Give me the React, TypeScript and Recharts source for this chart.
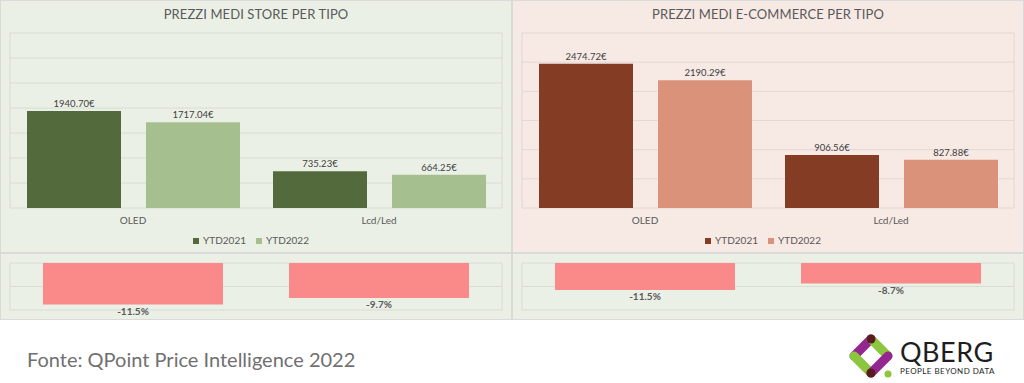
import {
  Bar,
  BarChart,
  CartesianGrid,
  LabelList,
  Legend,
  XAxis,
  YAxis,
} from 'recharts';

// Prezzi medi store / e-commerce per tipo, con variazione YTD2022 vs YTD2021 sotto.
const categories = ['OLED', 'Lcd/Led'];
const storeYtd2021 = [1940.7, 735.23];
const storeYtd2022 = [1717.04, 664.25];
const ecomYtd2021 = [2474.72, 906.56];
const ecomYtd2022 = [2190.29, 827.88];
const storeChange = [-11.5, -9.7];
const ecomChange = [-11.5, -8.7];
const storeTicks = [0, 500, 1000, 1500, 2000, 2500, 3000, 3500];
const ecomTicks = [0, 500, 1000, 1500, 2000, 2500, 3000];
const storeChangeTicks = [-13, -6.5, 0];
const ecomChangeTicks = [-20, -10, 0];
const gridTicks = [0, 1, 2];

const FONT = 'Lato, "Open Sans", sans-serif';
const GREEN_BG = '#EBF0E6';
const PINK_BG = '#F7E9E4';
const TEXT = '#595959';

const PANEL_W = 510;

function PricePanel({
  title,
  y21,
  y22,
  ticks,
  colors,
  bg,
  grid,
  left,
}: {
  title: string;
  y21: number[];
  y22: number[];
  ticks: number[];
  colors: [string, string];
  bg: string;
  grid: string;
  left: number;
}) {
  const data = categories.map((c, i) => ({ tipo: c, YTD2021: y21[i], YTD2022: y22[i] }));
  const fmt = (v: unknown) => `${(v as number).toFixed(2)}€`;

  return (
    <div style={{ position: 'absolute', left, top: 1, width: PANEL_W, height: 251, background: bg }}>
      <div
        style={{
          position: 'absolute',
          top: 5,
          left: 0,
          width: PANEL_W,
          textAlign: 'center',
          fontSize: 13,
          color: TEXT,
          letterSpacing: 0.1,
        }}
      >
        {title}
      </div>
      <BarChart
        width={PANEL_W}
        height={251}
        data={data}
        margin={{ top: 32, right: 9, left: 9, bottom: 14 }}
        barCategoryGap={17}
        barGap={25}
      >
        <CartesianGrid stroke={grid} xAxisId="grid" />
        <XAxis xAxisId="grid" type="number" domain={[0, 2]} ticks={gridTicks} hide />
        <XAxis
          dataKey="tipo"
          axisLine={false}
          tickLine={false}
          tickMargin={3}
          tick={{ fontSize: 10, fill: TEXT, fontFamily: FONT }}
        />
        <YAxis hide domain={[ticks[0], ticks[ticks.length - 1]]} ticks={ticks} />
        <Legend
          verticalAlign="middle"
          align="center"
          iconType="square"
          iconSize={6}
          wrapperStyle={{ top: 232, left: 0, width: PANEL_W, fontSize: 10, lineHeight: '14px' }}
          formatter={(v) => <span style={{ color: TEXT, fontFamily: FONT }}>{v}</span>}
        />
        <Bar dataKey="YTD2021" fill={colors[0]} isAnimationActive={false}>
          <LabelList
            dataKey="YTD2021"
            position="top"
            offset={4}
            formatter={fmt}
            style={{ fontSize: 9.5, fill: '#404040', fontFamily: FONT }}
          />
        </Bar>
        <Bar dataKey="YTD2022" fill={colors[1]} isAnimationActive={false}>
          <LabelList
            dataKey="YTD2022"
            position="top"
            offset={4}
            formatter={fmt}
            style={{ fontSize: 9.5, fill: '#404040', fontFamily: FONT }}
          />
        </Bar>
      </BarChart>
    </div>
  );
}

function ChangePanel({ values, ticks, left }: { values: number[]; ticks: number[]; left: number }) {
  const data = categories.map((c, i) => ({ tipo: c, delta: values[i] }));

  return (
    <div style={{ position: 'absolute', left, top: 254, width: PANEL_W, height: 65, background: GREEN_BG }}>
      <BarChart
        width={PANEL_W}
        height={65}
        data={data}
        margin={{ top: 9, right: 9, left: 9, bottom: 9 }}
        barCategoryGap={33}
      >
        <CartesianGrid stroke="#D8DCD3" xAxisId="grid" />
        <XAxis xAxisId="grid" type="number" domain={[0, 2]} ticks={gridTicks} hide />
        <XAxis dataKey="tipo" hide />
        <YAxis hide domain={[ticks[0], ticks[ticks.length - 1]]} ticks={ticks} />
        <Bar dataKey="delta" fill="#FA8989" isAnimationActive={false}>
          <LabelList
            dataKey="delta"
            position="top"
            offset={3}
            formatter={(v: unknown) => `${(v as number).toFixed(1)}%`}
            style={{ fontSize: 10, fill: TEXT, fontWeight: 'bold', fontFamily: FONT }}
          />
        </Bar>
      </BarChart>
    </div>
  );
}

function Logo() {
  return (
    <div style={{ position: 'absolute', left: 848, top: 334 }}>
      <svg width={50} height={46}>
        <g strokeLinecap="round" strokeWidth={9} fill="none">
          <line x1={23} y1={5} x2={6} y2={22} stroke="#93278F" />
          <line x1={23} y1={5} x2={40} y2={22} stroke="#8CC63F" />
          <line x1={6} y1={22} x2={23} y2={39} stroke="#8CC63F" />
          <line x1={40} y1={22} x2={23} y2={39} stroke="#93278F" />
        </g>
        <circle cx={23} cy={5} r={4.5} fill="#5B1A1E" />
        <circle cx={23} cy={39} r={4.5} fill="#5B1A1E" />
        <circle cx={40} cy={40} r={3.5} fill="#8CC63F" />
      </svg>
      <div
        style={{
          position: 'absolute',
          left: 52,
          top: 4,
          fontSize: 27,
          lineHeight: '27px',
          color: '#1E1E1E',
          fontFamily: FONT,
          letterSpacing: 0.5,
        }}
      >
        QBERG
      </div>
      <div
        style={{
          position: 'absolute',
          left: 52,
          top: 33,
          fontSize: 8,
          lineHeight: '9px',
          color: '#1E1E1E',
          fontFamily: FONT,
          letterSpacing: 0.45,
          whiteSpace: 'nowrap',
        }}
      >
        PEOPLE BEYOND DATA
      </div>
    </div>
  );
}

export default function App() {
  return (
    <div
      style={{
        position: 'absolute',
        left: 0,
        top: 0,
        width: 1024,
        height: 383,
        background: '#FFFFFF',
        fontFamily: FONT,
        overflow: 'hidden',
      }}
    >
      <div style={{ position: 'absolute', left: 0, top: 0, width: 1024, height: 320, background: '#DADADA' }} />
      <PricePanel
        title="PREZZI MEDI STORE PER TIPO"
        y21={storeYtd2021}
        y22={storeYtd2022}
        ticks={storeTicks}
        colors={['#536A3D', '#A6BF8E']}
        bg={GREEN_BG}
        grid="#D8DCD3"
        left={1}
      />
      <PricePanel
        title="PREZZI MEDI E-COMMERCE PER TIPO"
        y21={ecomYtd2021}
        y22={ecomYtd2022}
        ticks={ecomTicks}
        colors={['#843C24', '#DA927A']}
        bg={PINK_BG}
        grid="#E3D8D4"
        left={513}
      />
      <ChangePanel values={storeChange} ticks={storeChangeTicks} left={1} />
      <ChangePanel values={ecomChange} ticks={ecomChangeTicks} left={513} />
      <div
        style={{
          position: 'absolute',
          left: 27,
          top: 346,
          fontSize: 20,
          lineHeight: '26px',
          color: '#707070',
          whiteSpace: 'nowrap',
        }}
      >
        Fonte: QPoint Price Intelligence 2022
      </div>
      <Logo />
    </div>
  );
}
